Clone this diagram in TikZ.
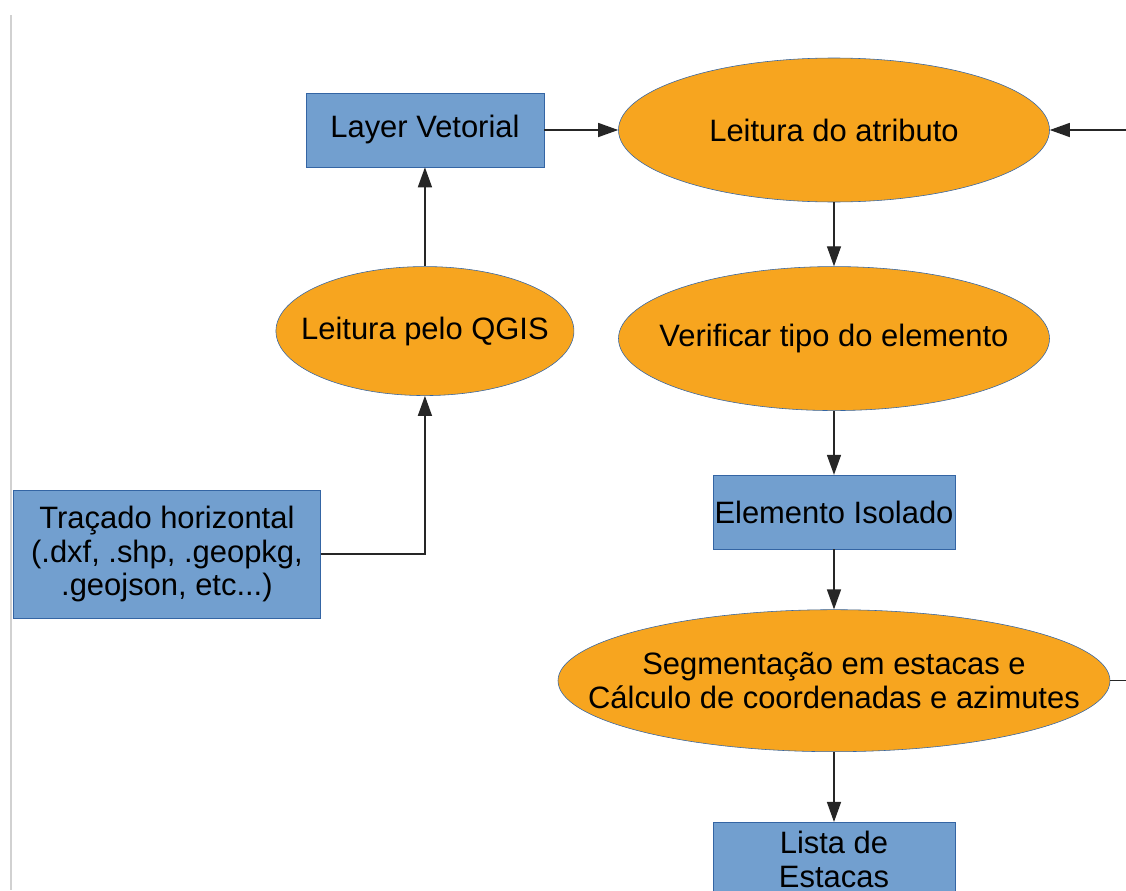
\documentclass[tikz,border=0pt]{standalone}
\usepackage{fontspec}
\setmainfont{Liberation Sans}
\usepackage{xcolor}
\usepackage{tikz}
\usetikzlibrary{arrows.meta,positioning,shapes.geometric}
\definecolor{boxblue}{HTML}{729FCF}
\definecolor{edgeblue}{HTML}{3465A4}
\definecolor{procorange}{HTML}{F7A51F}
\tikzset{
  >={Triangle[length=5mm, width=3.5mm]},
  every node/.style={font=\fontsize{22}{24}\selectfont, text=black},
  databox/.style={draw=edgeblue, fill=boxblue, align=center, inner sep=0pt, minimum width=60.5mm, minimum height=18.5mm},
  procell/.style={ellipse, draw=edgeblue, fill=procorange, inner sep=0pt, minimum width=107.75mm, minimum height=36mm,
    label={[align=center]center:#1}},
  link/.style={draw=black!85, line width=1pt},
}
\begin{document}
\begin{tikzpicture}[node distance=16mm and 18.5mm]
  \useasboundingbox (-208.5mm,32.5mm) rectangle (73mm,-190mm);
  \clip (-208.5mm,32.5mm) rectangle (73mm,-190mm);

  % page edge
  \draw[color=black!18, line width=0.5mm] (-205.75mm,28.75mm) -- (-205.75mm,-190mm);

  \node[procell={Leitura do atributo}] (atributo) {};
  \node[procell={Verificar tipo do elemento}, below=16mm of atributo] (verificar) {};
  \node[databox, below=16mm of verificar] (elemento) {Elemento Isolado};
  \node[procell={Segmenta\c{c}\~ao em estacas e\\C\'alculo de coordenadas e azimutes},
    below=15mm of elemento, minimum width=138mm, minimum height=35.5mm] (segm) {};
  \node[databox, below=17.5mm of segm] (lista) {Lista de\\Estacas};

  \node[databox, left=18.5mm of atributo, minimum width=59.5mm] (layer) {Layer Vetorial};
  \node[procell={Leitura pelo QGIS}, below=24.75mm of layer, minimum width=74.5mm, minimum height=32.25mm] (qgis) {};
  \node[databox, below=23.5mm of qgis, xshift=-64.5mm, minimum width=76.75mm, minimum height=32mm] (tracado)
    {Tra\c{c}ado horizontal\\(.dxf, .shp, .geopkg,\\.geojson, etc...)};

  \coordinate (rtop) at (73mm,0);
  \coordinate (rbot) at (segm.east -| rtop);

  \draw[link, ->] (layer) -- (atributo);
  \draw[link, ->] (rtop) -- (atributo);
  \draw[link, ->] (qgis) -- (layer);
  \draw[link, ->] (tracado.east) -| (qgis.south);
  \draw[link, ->] (atributo) -- (verificar);
  \draw[link, ->] (verificar) -- (elemento);
  \draw[link, ->] (elemento) -- (segm);
  \draw[link, ->] (segm) -- (lista);
  \draw[link] (segm.east) -- (rbot);
\end{tikzpicture}
\end{document}
